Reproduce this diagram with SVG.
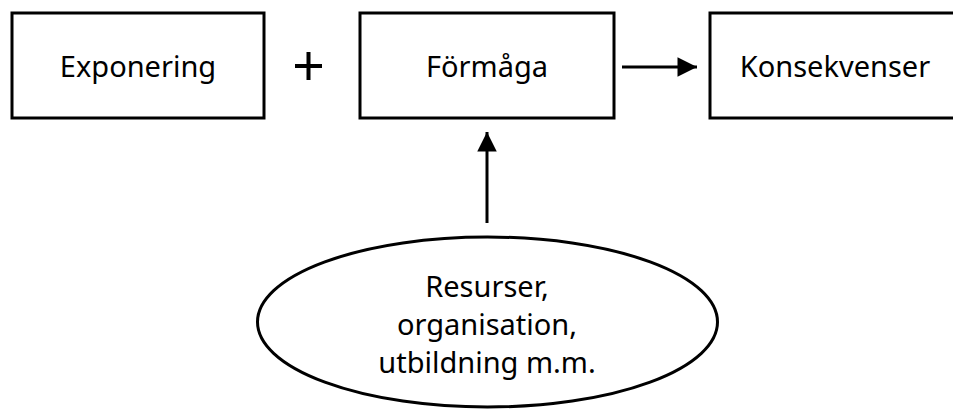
<svg xmlns="http://www.w3.org/2000/svg" width="953" height="409" viewBox="0 0 953 409">
  <style>
    .box { fill: #fff; stroke: #000; stroke-width: 3; }
    .lbl { font-family: "Noto Sans", "Open Sans", sans-serif; font-size: 29px; fill: #000; text-anchor: middle; }
    .conn { stroke: #000; stroke-width: 3; fill: none; }
  </style>
  <defs>
    <marker id="head" viewBox="0 0 10 10" refX="10" refY="5" markerWidth="6.7" markerHeight="6.5" orient="auto" markerUnits="strokeWidth">
      <path d="M0,0 L10,5 L0,10 z" fill="#000"/>
    </marker>
  </defs>
  <rect width="953" height="409" fill="#fff"/>

  <g id="exponering">
    <rect class="box" x="12" y="13" width="252" height="105"/>
    <text class="lbl" x="138" y="77">Exponering</text>
  </g>

  <g id="plus">
    <path d="M295,66 H322 M308.5,52 V80" stroke="#000" stroke-width="4" fill="none"/>
  </g>

  <g id="formaga">
    <rect class="box" x="360" y="13" width="254" height="105"/>
    <text class="lbl" x="487" y="77">Förmåga</text>
  </g>

  <g id="konsekvenser">
    <rect class="box" x="710" y="13" width="260" height="105"/>
    <text class="lbl" x="835" y="77">Konsekvenser</text>
  </g>

  <g id="resurser">
    <ellipse class="box" cx="487.5" cy="322" rx="230" ry="85"/>
    <text class="lbl" x="487" y="297">Resurser,</text>
    <text class="lbl" x="487" y="335">organisation,</text>
    <text class="lbl" x="487" y="373">utbildning m.m.</text>
  </g>

  <g id="connectors">
    <line class="conn" x1="622" y1="67" x2="697" y2="67" marker-end="url(#head)"/>
    <line class="conn" x1="487" y1="223" x2="487" y2="132" marker-end="url(#head)"/>
  </g>
</svg>
